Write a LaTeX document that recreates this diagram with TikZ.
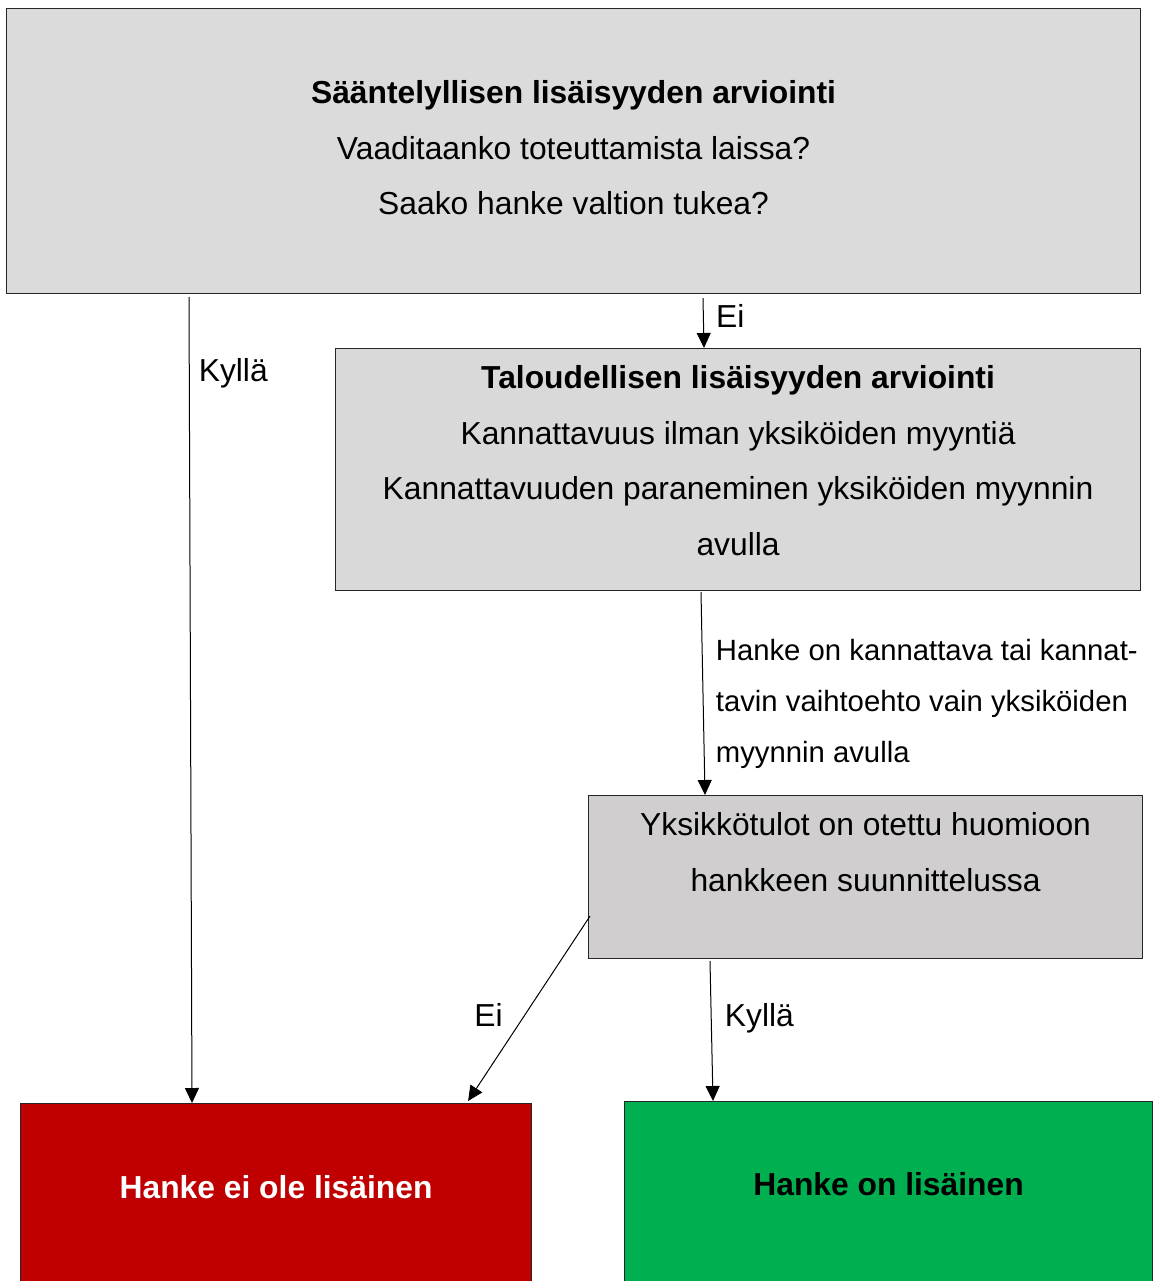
\documentclass[tikz,border=0pt]{standalone}
\usepackage{fontspec}
\setmainfont{Liberation Sans}
\usetikzlibrary{arrows.meta,positioning,calc}
\definecolor{regfill}{HTML}{DBDBDB}
\definecolor{ecofill}{HTML}{D9D9D9}
\definecolor{unitfill}{HTML}{D0CECE}
\definecolor{nofill}{HTML}{C00000}
\definecolor{yesfill}{HTML}{00B050}

\begin{document}
\begin{tikzpicture}[
    x=0.5pt, y=-0.5pt,
    box/.style={rectangle,draw=black!85,line width=0.55pt,anchor=north west,inner sep=0pt,align=center,font=\fontsize{15.9}{27.7}\selectfont},
    lbl/.style={font=\fontsize{15.9}{25.5}\selectfont,inner sep=0pt,align=left},
    arr/.style={->,line width=0.5pt},
    >={Triangle[length=7.5pt,width=7pt]}]
  \path[use as bounding box,clip] (0,0) rectangle (1153,1281);
  % assessment boxes
  \node[box,fill=regfill,minimum width=567pt,text height=103pt,text depth=39.5pt] (reg) at (6,8)
    {\textbf{Sääntelyllisen lisäisyyden arviointi}\\Vaaditaanko toteuttamista laissa?\\Saako hanke valtion tukea?};
  \node[box,fill=ecofill,minimum width=402.5pt,text height=103.25pt,text depth=17.75pt] (eco) at (335,348)
    {\textbf{Taloudellisen lisäisyyden arviointi}\\Kannattavuus ilman yksiköiden myyntiä\\Kannattavuuden paraneminen yksiköiden myynnin\\avulla};
  \node[box,fill=unitfill,minimum width=277pt,text height=47.75pt,text depth=33.75pt] (unit) at (588,795)
    {Yksikkötulot on otettu huomioon\\hankkeen suunnittelussa};
  % outcomes
  \node[box,fill=nofill,text=white,minimum width=255.5pt,text height=47.5pt,text depth=48.5pt] (no) at (20,1103)
    {\textbf{Hanke ei ole lisäinen}};
  \node[box,fill=yesfill,minimum width=264pt,text height=47pt,text depth=50pt] (yes) at (624,1101)
    {\textbf{Hanke on lisäinen}};
  % connectors
  \draw[arr] ([xshift=91.5pt,yshift=-1.5pt]reg.south west) -- node[lbl,pos=0.105,anchor=base west,xshift=4.5pt]{Kyllä} ([xshift=86pt]no.north west);
  \draw[arr] ([xshift=348.5pt,yshift=-2pt]reg.south west) -- node[lbl,pos=0.58,anchor=base west,xshift=6pt]{Ei} ([xshift=184.5pt]eco.north west);
  \draw[arr] ([xshift=183pt,yshift=-0.5pt]eco.south west) -- node[lbl,font=\fontsize{14.65}{25.5}\selectfont,pos=0.838,anchor=base west,xshift=5.5pt]{Hanke on kannattava tai kannat-\\tavin vaihtoehto vain yksiköiden\\myynnin avulla} ([xshift=58.5pt]unit.north west);
  \draw[arr] ([xshift=1pt,yshift=21.5pt]unit.south west) -- node[lbl,pos=0.597,anchor=base east,xshift=-7pt]{Ei} ([xshift=-32pt,yshift=1pt]no.north east);
  \draw[arr] ([xshift=61pt,yshift=-1pt]unit.south west) -- node[lbl,pos=0.47,anchor=base west,xshift=6.5pt]{Kyllä} ([xshift=44.5pt]yes.north west);
\end{tikzpicture}
\end{document}
